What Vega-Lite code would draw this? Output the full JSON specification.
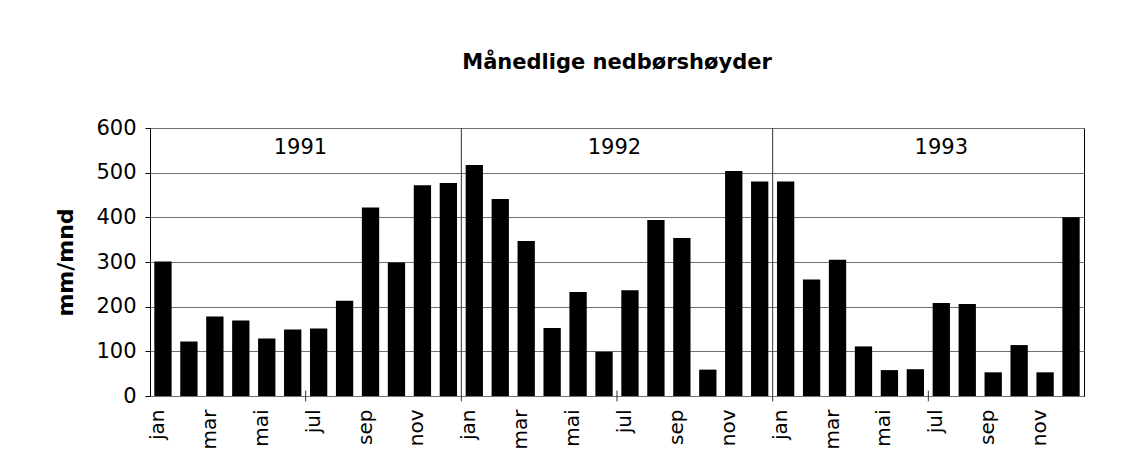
{
  "$schema": "https://vega.github.io/schema/vega-lite/v6.json",
  "autosize": "none",
  "width": 934,
  "height": 268,
  "padding": {"left": 150, "top": 128, "right": 37, "bottom": 72},
  "background": "white",
  "title": {
    "text": "Månedlige nedbørshøyder",
    "font": "DejaVu Sans",
    "fontSize": 21,
    "fontWeight": "bold",
    "color": "black",
    "anchor": "middle",
    "frame": "group",
    "baseline": "alphabetic",
    "offset": 27
  },
  "config": {
    "view": {"stroke": "black", "strokeWidth": 1},
    "axis": {"labelFont": "DejaVu Sans", "titleFont": "DejaVu Sans", "labelColor": "black", "titleColor": "black"},
    "axisY": {
      "titleFontSize": 22, "titleFontWeight": "bold", "titlePadding": 18,
      "labelFontSize": 21, "values": [0, 100, 200, 300, 400, 500, 600], "tickSize": 5, "tickColor": "black",
      "labelPadding": 9, "domain": false, "grid": true, "gridColor": "#707070", "gridOpacity": 1
    }
  },
  "resolve": {"scale": {"x": "independent"}, "axis": {"x": "independent"}},
  "layer": [
    {
      "data": {
        "values": [
          {"key": "1991-jan", "mm": 301}, {"key": "1991-feb", "mm": 122}, {"key": "1991-mar", "mm": 178},
          {"key": "1991-apr", "mm": 169}, {"key": "1991-mai", "mm": 129}, {"key": "1991-jun", "mm": 149},
          {"key": "1991-jul", "mm": 151}, {"key": "1991-aug", "mm": 213}, {"key": "1991-sep", "mm": 422},
          {"key": "1991-okt", "mm": 299}, {"key": "1991-nov", "mm": 472}, {"key": "1991-des", "mm": 477},
          {"key": "1992-jan", "mm": 517}, {"key": "1992-feb", "mm": 441}, {"key": "1992-mar", "mm": 347},
          {"key": "1992-apr", "mm": 152}, {"key": "1992-mai", "mm": 233}, {"key": "1992-jun", "mm": 99},
          {"key": "1992-jul", "mm": 237}, {"key": "1992-aug", "mm": 394}, {"key": "1992-sep", "mm": 354},
          {"key": "1992-okt", "mm": 59}, {"key": "1992-nov", "mm": 504}, {"key": "1992-des", "mm": 480},
          {"key": "1993-jan", "mm": 480}, {"key": "1993-feb", "mm": 261}, {"key": "1993-mar", "mm": 305},
          {"key": "1993-apr", "mm": 111}, {"key": "1993-mai", "mm": 58}, {"key": "1993-jun", "mm": 60},
          {"key": "1993-jul", "mm": 208}, {"key": "1993-aug", "mm": 206}, {"key": "1993-sep", "mm": 53},
          {"key": "1993-okt", "mm": 114}, {"key": "1993-nov", "mm": 53}, {"key": "1993-des", "mm": 400}
        ]
      },
      "mark": {"type": "bar", "color": "black"},
      "encoding": {
        "x": {
          "field": "key", "type": "nominal", "sort": null,
          "scale": {"paddingInner": 0.333, "paddingOuter": 0.1665},
          "axis": {
            "title": null, "labelAngle": 270, "labelFontSize": 20, "ticks": false, "domain": false, "grid": false,
            "labelPadding": 13, "labelOffset": -5, "labelOverlap": false,
            "labelExpr": "indexof(['jan','mar','mai','jul','sep','nov'], split(datum.value,'-')[1]) >= 0 ? split(datum.value,'-')[1] : ''"
          }
        },
        "y": {
          "field": "mm", "type": "quantitative",
          "scale": {"domain": [0, 600], "nice": false},
          "axis": {"title": "mm/mnd"}
        }
      }
    },
    {
      "data": {
        "values": [
          {"pos": 6, "a": -12, "b": 12}, {"pos": 12, "a": -12, "b": 600}, {"pos": 18, "a": -12, "b": 12},
          {"pos": 24, "a": -12, "b": 600}, {"pos": 30, "a": -12, "b": 12}
        ]
      },
      "mark": {"type": "rule", "color": "#333333", "strokeWidth": 1},
      "encoding": {
        "x": {"field": "pos", "type": "quantitative", "scale": {"domain": [0, 36], "nice": false, "zero": false}, "axis": null},
        "y": {"field": "a", "type": "quantitative", "scale": {"domain": [0, 600], "nice": false}, "axis": {"title": "mm/mnd"}},
        "y2": {"field": "b"}
      }
    },
    {
      "data": {
        "values": [
          {"year": "1991", "pos": 5.8, "yv": 555},
          {"year": "1992", "pos": 17.9, "yv": 555},
          {"year": "1993", "pos": 30.5, "yv": 555}
        ]
      },
      "mark": {"type": "text", "font": "DejaVu Sans", "fontSize": 21, "color": "black", "baseline": "middle", "align": "center"},
      "encoding": {
        "x": {"field": "pos", "type": "quantitative", "scale": {"domain": [0, 36], "nice": false, "zero": false}, "axis": null},
        "y": {"field": "yv", "type": "quantitative", "scale": {"domain": [0, 600], "nice": false}, "axis": {"title": "mm/mnd"}},
        "text": {"field": "year"}
      }
    }
  ]
}
